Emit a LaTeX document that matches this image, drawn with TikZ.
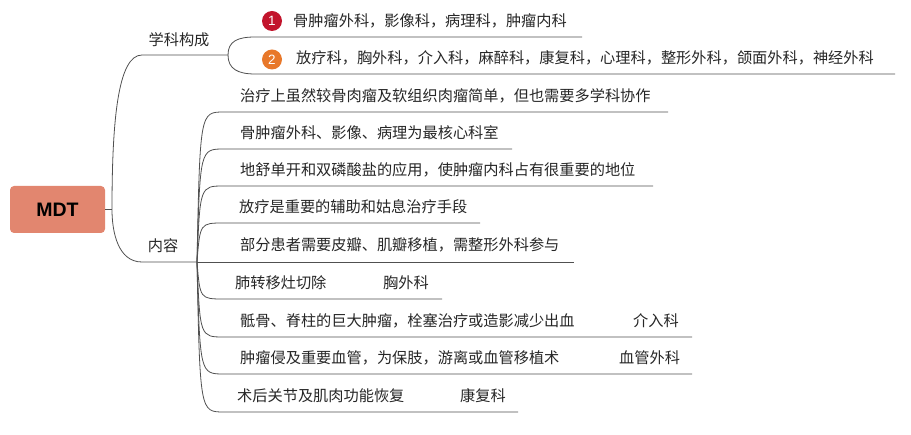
\documentclass[tikz,border=0pt]{standalone}
\usepackage{fontspec}
\setmainfont{Liberation Sans}
\newfontfamily\cjk{Noto Sans CJK SC}
\definecolor{boxfill}{HTML}{E2866F}
\definecolor{linegray}{HTML}{505050}
\definecolor{textgray}{HTML}{262626}
\definecolor{redone}{HTML}{C2142C}
\definecolor{orangetwo}{HTML}{E8782A}
\begin{document}
\begin{tikzpicture}[x=1pt,y=-1pt,
  conn/.style={draw=linegray, line width=0.8pt},
  txt/.style={inner sep=0pt, anchor=base west, text=textgray, font=\cjk\fontsize{15.2}{18}\selectfont},
  lbl/.style={inner sep=0pt, text=textgray, font=\cjk\fontsize{15.2}{18}\selectfont},
  numdot/.style={circle, inner sep=0pt, minimum size=20pt, text=white, font=\fontsize{13.5}{13.5}\selectfont}
]
\useasboundingbox (0,0) rectangle (911,435);
% root
\node[fill=boxfill, rounded corners=4pt, minimum width=95pt, minimum height=47pt, inner sep=0pt,
      font=\bfseries\fontsize{19.5}{19.5}\selectfont, text=black] (mdt) at (57.5,209.5) {MDT};
\coordinate (root) at (112,209.5);
\draw[conn] (mdt.east) -- (root);
% branch 学科构成
\node[lbl] (xk) at (179,40) {学科构成};
\coordinate (xkL) at (142,55);
\coordinate (xkR) at (228,55);
\draw[conn] (root) .. controls (112,120) and (118,55) .. (xkL) -- (xkR);
% branch 内容
\node[lbl] (nr) at (163,246) {内容};
\coordinate (nrL) at (142,262);
\coordinate (nrR) at (197,262);
\draw[conn] (root) .. controls (112,232) and (118,262) .. (nrL) -- (nrR);
% 学科构成 items
\coordinate (a1L) at (255,37); \coordinate (a1R) at (582,37);
\coordinate (a2L) at (255,74); \coordinate (a2R) at (895,74);
\draw[conn] (xkR) .. controls (228,41) and (238,37) .. (a1L) -- (a1R);
\draw[conn] (xkR) .. controls (228,69) and (238,74) .. (a2L) -- (a2R);
\node[numdot, fill=redone] (d1) at (272,21) {1};
\node[numdot, fill=orangetwo] (d2) at (272,59.5) {2};
\node[txt] (t1) at (293,27) {骨肿瘤外科，影像科，病理科，肿瘤内科};
\node[txt] (t2) at (296,64) {放疗科，胸外科，介入科，麻醉科，康复科，心理科，整形外科，颌面外科，神经外科};
% 内容 items
\foreach \n/\y/\e in {1/112/668, 2/149/512, 3/186/653, 4/223/480, 6/299/442, 7/337/692, 8/374/692, 9/412/518}{
  \coordinate (b\n L) at (224,\y);
  \coordinate (b\n R) at (\e,\y);
  \draw[conn] (nrR) .. controls (200,\y) .. (b\n L) -- (b\n R);
}
\coordinate (b5R) at (574,262);
\draw[conn] (nrR) -- (b5R);
\node[txt] (c1) at (240,102) {治疗上虽然较骨肉瘤及软组织肉瘤简单，但也需要多学科协作};
\node[txt] (c2) at (240,139) {骨肿瘤外科、影像、病理为最核心科室};
\node[txt] (c3) at (240,176) {地舒单开和双磷酸盐的应用，使肿瘤内科占有很重要的地位};
\node[txt] (c4) at (239,213) {放疗是重要的辅助和姑息治疗手段};
\node[txt] (c5) at (240,251) {部分患者需要皮瓣、肌瓣移植，需整形外科参与};
\node[txt] (c6) at (235,289) {肺转移灶切除};
\node[txt] (c6b) at (383,289) {胸外科};
\node[txt] (c7) at (240,327) {骶骨、脊柱的巨大肿瘤，栓塞治疗或造影减少出血};
\node[txt] (c7b) at (633,327) {介入科};
\node[txt] (c8) at (240,364) {肿瘤侵及重要血管，为保肢，游离或血管移植术};
\node[txt] (c8b) at (619,364) {血管外科};
\node[txt] (c9) at (237,402) {术后关节及肌肉功能恢复};
\node[txt] (c9b) at (460,402) {康复科};
\end{tikzpicture}
\end{document}
